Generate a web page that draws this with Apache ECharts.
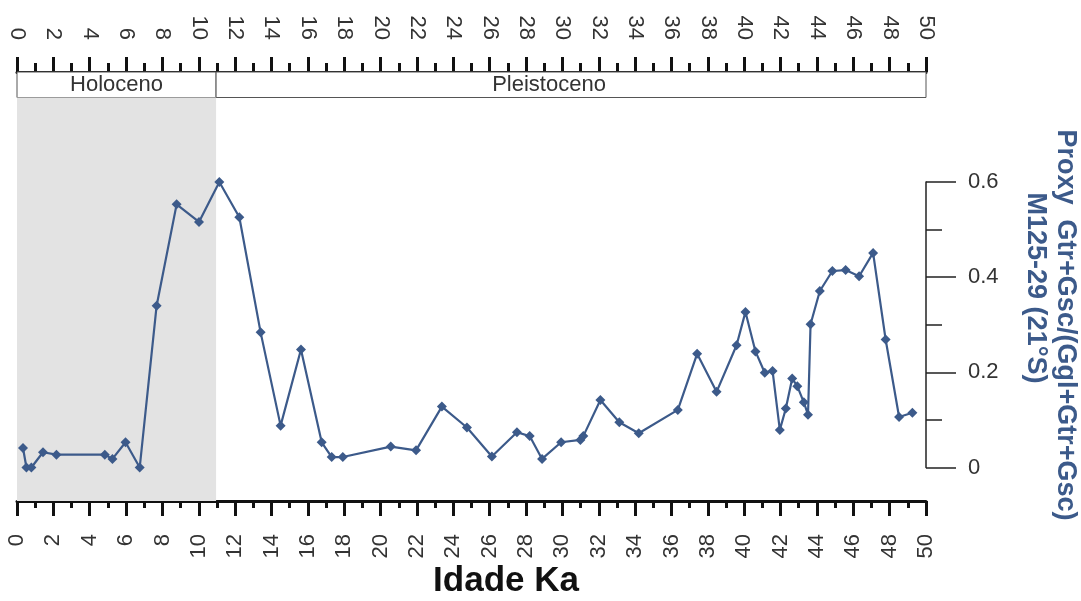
<!DOCTYPE html>
<html>
<head>
<meta charset="utf-8">
<script src="https://cdn.jsdelivr.net/npm/echarts@6/dist/echarts.min.js"></script>
<style>
html,body{margin:0;padding:0;background:#fff;}
#main{width:1081px;height:601px;}
</style>
</head>
<body>
<div id="main"></div>
<script>
// Age (ka) and proxy values
var ages = [0.33,0.52,0.79,1.43,2.17,4.83,5.25,5.97,6.75,7.68,
  8.78,10.01,11.13,12.23,13.4,14.5,15.62,16.76,17.31,17.92,
  20.56,21.95,23.37,24.75,26.12,27.5,28.2,28.88,29.93,30.99,
  31.15,32.09,33.13,34.2,36.35,37.41,38.48,39.58,40.07,40.62,
  41.13,41.56,41.96,42.29,42.64,42.92,43.28,43.51,43.65,44.16,
  44.85,45.58,46.32,47.09,47.78,48.52,49.25];
var proxy = [0.041,0,0,0.032,0.027,0.027,0.018,0.053,0,0.34,
  0.553,0.516,0.60,0.526,0.284,0.088,0.248,0.053,0.022,0.022,
  0.044,0.036,0.128,0.084,0.023,0.074,0.066,0.018,0.053,0.058,
  0.066,0.142,0.095,0.072,0.121,0.239,0.159,0.257,0.327,0.244,
  0.199,0.203,0.079,0.124,0.187,0.171,0.137,0.111,0.301,0.371,
  0.413,0.415,0.402,0.451,0.269,0.106,0.115];
var epochNames = ['Holoceno','Pleistoceno'];
var epochBounds = [0, 10.95, 50];
var ageMin = 0, ageMax = 50, ageStep = 2;
var yMin = 0, yMax = 0.6, yStep = 0.2;

var lineColor = '#3c5a8a';
var tickFont = 'Liberation Sans, Arial, sans-serif';

var points = ages.map(function(a,i){ return [a, proxy[i]]; });

var chart = echarts.init(document.getElementById('main'), null, {renderer:'canvas'});

function ageAxis(gridIndex, position){
  return {
    type:'value', gridIndex:gridIndex, position:position, min:ageMin, max:ageMax, interval:ageStep,
    axisLine:{show:true, onZero:false, lineStyle:{color:'#111', width:3}},
    axisTick:{show:true, length:15, lineStyle:{color:'#111', width:3}},
    minorTick:{show:true, splitNumber:2, length: position==='top'?9:7, lineStyle:{color:'#111', width:3}},
    axisLabel:{show:true, rotate:90, margin: position==='top'?32:33, fontSize:22, color:'#333', fontFamily:tickFont,
      showMinLabel:true, showMaxLabel:true, hideOverlap:false},
    splitLine:{show:false}
  };
}

var option = {
  animation:false,
  backgroundColor:'#fff',
  grid:[
    {left:17, right:155, top:72, height:25.5},
    {left:17, right:155, top:97.5, bottom:100},
    {left:17, right:155, top:182, bottom:133.5}
  ],
  xAxis:[
    ageAxis(0,'top'),
    ageAxis(1,'bottom'),
    {type:'value', gridIndex:2, min:ageMin, max:ageMax, show:false}
  ],
  yAxis:[
    {type:'value', gridIndex:0, min:0, max:1, show:false},
    {type:'value', gridIndex:1, min:0, max:1, show:false},
    {type:'value', gridIndex:2, position:'right', min:yMin, max:yMax, interval:yStep,
      axisLine:{show:true, onZero:false, lineStyle:{color:'#222', width:1.5}},
      axisTick:{show:true, length:30, lineStyle:{color:'#222', width:1.5}},
      minorTick:{show:true, splitNumber:2, length:16, lineStyle:{color:'#222', width:1.5}},
      axisLabel:{margin:42, fontSize:22, color:'#333', fontFamily:tickFont,
        formatter:function(v){ return v===0 ? '0' : v.toFixed(1); }},
      splitLine:{show:false}
    }
  ],
  series:[
    {
      type:'line', xAxisIndex:0, yAxisIndex:0, data:[], silent:true,
      markArea:{
        silent:true,
        itemStyle:{color:'#fff', borderColor:'#555', borderWidth:1},
        label:{position:'inside', fontSize:22, color:'#333', fontFamily:tickFont},
        data: epochNames.map(function(n,i){
          return [{name:n, xAxis:epochBounds[i], label: i===1 ? {offset:[-22,0]} : {}}, {xAxis:epochBounds[i+1]}];
        })
      }
    },
    {
      type:'line', xAxisIndex:1, yAxisIndex:1, data:[], silent:true,
      markArea:{
        silent:true,
        itemStyle:{color:'#e3e3e3'},
        data:[[{xAxis:epochBounds[0]},{xAxis:epochBounds[1]}]]
      }
    },
    {
      type:'line', xAxisIndex:2, yAxisIndex:2, data:points, clip:false,
      symbol:'diamond', symbolSize:10, showSymbol:true,
      lineStyle:{color:lineColor, width:2.2},
      itemStyle:{color:lineColor}
    }
  ],
  graphic:[
    {type:'text', left:34, top:214, style:{text:'B', fontSize:30, fill:'#4a6b9c', fontFamily:tickFont}},
    {type:'text', x:1065, y:325, rotation:-Math.PI/2,
      style:{text:'Proxy  Gtr+Gsc/(Ggl+Gtr+Gsc)', fontSize:27, fontWeight:'bold', fill:'#3c5a8a',
        fontFamily:tickFont, textAlign:'center', textVerticalAlign:'middle'}},
    {type:'text', x:1035, y:288, rotation:-Math.PI/2,
      style:{text:'M125-29 (21°S)', fontSize:27, fontWeight:'bold', fill:'#3c5a8a',
        fontFamily:tickFont, textAlign:'center', textVerticalAlign:'middle'}},
    {type:'text', x:506, y:581,
      style:{text:'Idade Ka', fontSize:35, fontWeight:'bold', fill:'#111',
        fontFamily:tickFont, textAlign:'center', textVerticalAlign:'middle'}}
  ]
};
chart.setOption(option);
</script>
</body>
</html>
